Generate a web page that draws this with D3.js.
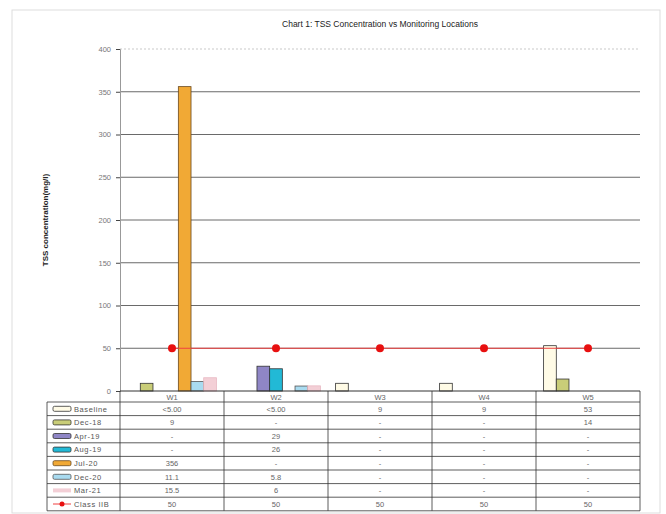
<!DOCTYPE html>
<html>
<head>
<meta charset="UTF-8" />
<style>
  body { margin: 0; background: #fff; }
  text { font-family: "Liberation Sans", Arial, sans-serif; }
</style>
</head>
<body>
<div id="chart"></div>
<script src="https://cdn.jsdelivr.net/npm/d3@7"></script>
<script>
// data
const locations = ["W1", "W2", "W3", "W4", "W5"];
const seriesNames = ["Baseline", "Dec-18", "Apr-19", "Aug-19", "Jul-20", "Dec-20", "Mar-21"];
const baseline = ["<5.00", "<5.00", 9, 9, 53];
const dec18 = [9, null, null, null, 14];
const apr19 = [null, 29, null, null, null];
const aug19 = [null, 26, null, null, null];
const jul20 = [356, null, null, null, null];
const dec20 = [11.1, 5.8, null, null, null];
const mar21 = [15.5, 6, null, null, null];
const classIIB = [50, 50, 50, 50, 50];
const yTicks = [0, 50, 100, 150, 200, 250, 300, 350, 400];

const seriesValues = [baseline, dec18, apr19, aug19, jul20, dec20, mar21];
const fills = ["#fffbe6", "#c9cd78", "#8f86c6", "#22b9d6", "#f1a935", "#a9dbf0", "#f3cfd6"];
const strokes = ["#333", "#333", "#333", "#333", "#6a4a20", "#555", "#e8b8c2"];

const width = 666, height = 514;
const plot = { left: 120, right: 640, top: 49, bottom: 391 };

let svg = d3.select("#chart").append("svg")
    .attr("width", width)
    .attr("height", height);

// outer frame
svg.append("rect")
    .attr("x", 12).attr("y", 10)
    .attr("width", 648).attr("height", 503)
    .attr("fill", "none").attr("stroke", "#ddd");

let x = d3.scaleBand()
    .domain(locations)
    .range([plot.left, plot.right]);

let xs = d3.scaleBand()
    .domain(seriesNames)
    .range([0, x.bandwidth()])
    .paddingOuter(0.6);

let y = d3.scaleLinear()
    .domain([0, 400])
    .range([plot.bottom, plot.top]);

// title
svg.append("text")
    .attr("x", 380).attr("y", 27)
    .attr("text-anchor", "middle")
    .attr("font-size", 8.5)
    .attr("fill", "#222")
    .text("Chart 1: TSS Concentration vs Monitoring Locations");

// y axis label
svg.append("text")
    .attr("transform", "translate(48," + (plot.top + plot.bottom) / 2 + ") rotate(-90)")
    .attr("text-anchor", "middle")
    .attr("font-size", 8)
    .attr("font-weight", "bold")
    .attr("fill", "#222")
    .text("TSS concentration(mg/l)");

// gridlines
svg.append("g")
    .selectAll("line")
    .data(yTicks.filter(d => d > 0))
    .join("line")
    .attr("x1", plot.left).attr("x2", plot.right)
    .attr("y1", d => y(d)).attr("y2", d => y(d))
    .attr("stroke", d => d == 400 ? "#bbb" : "#444")
    .attr("stroke-dasharray", d => d == 400 ? "2,2" : null)
    .attr("stroke-width", 0.8);

// y axis
let yAxis = svg.append("g")
    .attr("transform", "translate(" + plot.left + ",0)")
    .call(d3.axisLeft(y).tickValues(yTicks).tickSize(4).tickPadding(5).tickFormat(d3.format("d")));
yAxis.select(".domain").attr("stroke", "#999");
yAxis.selectAll(".tick line").attr("stroke", "#444");
yAxis.selectAll("text").attr("font-size", 7.5).attr("fill", "#777")
    .attr("font-family", "\"Liberation Sans\", Arial, sans-serif");

// bars
seriesNames.forEach((name, i) => {
    svg.append("g")
        .selectAll("rect")
        .data(seriesValues[i].map((v, j) => ({ loc: locations[j], v: v })).filter(d => typeof d.v == "number"))
        .join("rect")
        .attr("x", d => x(d.loc) + xs(name))
        .attr("y", d => y(d.v))
        .attr("width", xs.bandwidth())
        .attr("height", d => y(0) - y(d.v))
        .attr("fill", fills[i])
        .attr("stroke", strokes[i])
        .attr("stroke-width", 0.8);
});

// class IIB line
let line = d3.line()
    .x((d, j) => x(locations[j]) + x.bandwidth() / 2)
    .y(d => y(d));
svg.append("path")
    .attr("d", line(classIIB))
    .attr("fill", "none")
    .attr("stroke", "#f04040")
    .attr("stroke-width", 1);
svg.append("g")
    .selectAll("circle")
    .data(classIIB)
    .join("circle")
    .attr("cx", (d, j) => x(locations[j]) + x.bandwidth() / 2)
    .attr("cy", d => y(d))
    .attr("r", 4)
    .attr("fill", "#e81010");

// x axis baseline
svg.append("line")
    .attr("x1", plot.left).attr("x2", plot.right)
    .attr("y1", plot.bottom).attr("y2", plot.bottom)
    .attr("stroke", "#333");

// data table
const rowNames = seriesNames.concat(["Class IIB"]);
const rowValues = seriesValues.concat([classIIB]);
const tableTop = 402, rowH = 13.6, labelLeft = 47;
const tableBottom = tableTop + rowH * rowNames.length;
let table = svg.append("g");

// header labels
table.selectAll("text.head")
    .data(locations)
    .join("text")
    .attr("class", "head")
    .attr("x", d => x(d) + x.bandwidth() / 2)
    .attr("y", tableTop - 2.5)
    .attr("text-anchor", "middle")
    .attr("font-size", 7.5)
    .attr("fill", "#666")
    .text(d => d);

// horizontal rules
table.selectAll("line.h")
    .data(d3.range(rowNames.length + 1))
    .join("line")
    .attr("class", "h")
    .attr("x1", labelLeft).attr("x2", plot.right)
    .attr("y1", i => tableTop + i * rowH).attr("y2", i => tableTop + i * rowH)
    .attr("stroke", "#333").attr("stroke-width", 0.8);

// vertical rules
table.selectAll("line.v")
    .data(locations.map(d => x(d)).concat([plot.right]))
    .join("line")
    .attr("class", "v")
    .attr("x1", d => d).attr("x2", d => d)
    .attr("y1", plot.bottom).attr("y2", tableBottom)
    .attr("stroke", "#333").attr("stroke-width", 0.8);
table.append("line")
    .attr("x1", labelLeft).attr("x2", labelLeft)
    .attr("y1", tableTop).attr("y2", tableBottom)
    .attr("stroke", "#333").attr("stroke-width", 0.8);

rowNames.forEach((name, i) => {
    let cy = tableTop + i * rowH + rowH / 2;
    let row = table.append("g");
    if (i < seriesNames.length) {
        if (i == 6) {
            row.append("rect")
                .attr("x", 53).attr("y", cy - 2)
                .attr("width", 18).attr("height", 4)
                .attr("fill", fills[i]);
        } else {
            row.append("rect")
                .attr("x", 53).attr("y", cy - 2.5)
                .attr("width", 18).attr("height", 5).attr("rx", 1.5)
                .attr("fill", fills[i]).attr("stroke", strokes[i]).attr("stroke-width", 0.8);
        }
    } else {
        row.append("line")
            .attr("x1", 53).attr("x2", 71).attr("y1", cy).attr("y2", cy)
            .attr("stroke", "#f04040");
        row.append("circle")
            .attr("cx", 62).attr("cy", cy).attr("r", 2.5).attr("fill", "#e81010");
    }
    row.append("text")
        .attr("x", 74).attr("y", cy + 2.7)
        .attr("font-size", 7.5).attr("fill", "#555")
        .attr("letter-spacing", 0.6)
        .text(name);
    row.selectAll("text.val")
        .data(rowValues[i])
        .join("text")
        .attr("class", "val")
        .attr("x", (d, j) => x(locations[j]) + x.bandwidth() / 2)
        .attr("y", cy + 2.7)
        .attr("text-anchor", "middle")
        .attr("font-size", 7.5).attr("fill", "#666")
        .text(d => d == null ? "-" : d);
});
</script>
</body>
</html>
